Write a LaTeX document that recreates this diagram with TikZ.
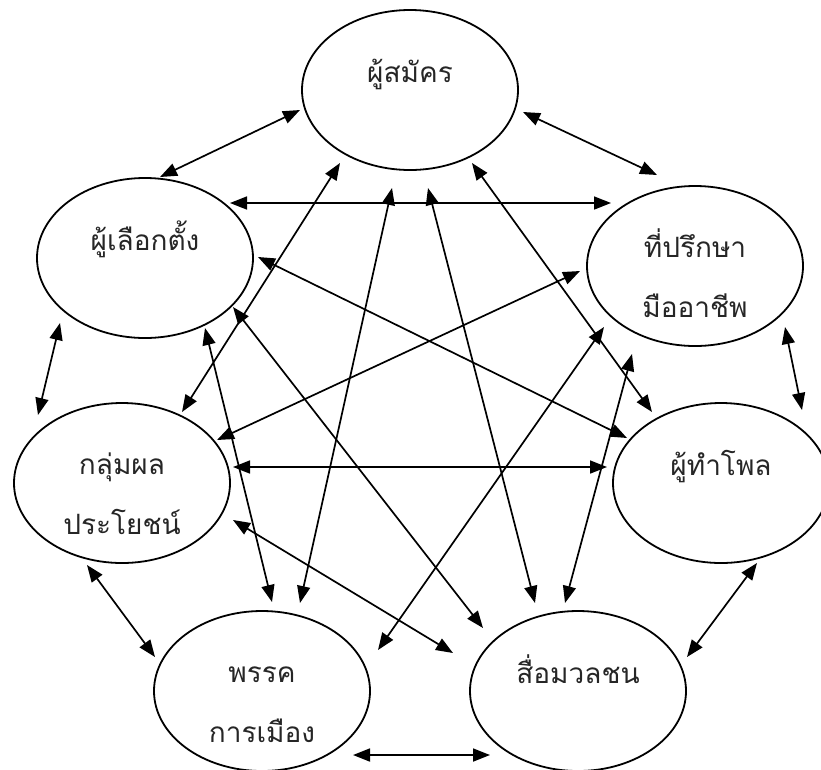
\documentclass[tikz,border=0pt]{standalone}
\usepackage{fontspec}
\newfontfamily\thaifont[Script=Thai]{Loma}
\usetikzlibrary{arrows.meta,shapes.geometric}
\tikzset{
  actor/.style={ellipse, draw, line width=1.8pt, minimum width=216pt, minimum height=160pt, inner sep=0pt, outer sep=0pt},
  lbl/.style={anchor=base, align=center, inner sep=0pt, text=black!85, font=\thaifont\fontsize{28}{60}\selectfont},
  link/.style={line width=1.7pt, {Triangle[length=17pt,width=13pt]}-{Triangle[length=17pt,width=13pt]}}
}
\begin{document}
\begin{tikzpicture}[x=1pt,y=-1pt]
\useasboundingbox (0,0) rectangle (821,769);
\clip (0,0) rectangle (821,769);
% ellipses
\node[actor] (S) at (410,90) {};
\node[actor] (V) at (145,258) {};
\node[actor] (C) at (695,266) {};
\node[actor] (I) at (122,483) {};
\node[actor] (P) at (721,483) {};
\node[actor] (R) at (262,691) {};
\node[actor] (M) at (578,691) {};
% labels (base anchor = baseline of the last line)
\node[lbl] (St) at ([yshift=8pt]S.center) {ผู้สมัคร};
\node[lbl] (Vt) at ([yshift=8pt]V.center) {ผู้เลือกตั้ง};
\node[lbl] (Ct) at ([yshift=-51pt]C.center) {ที่ปรึกษา\\มืออาชีพ};
\node[lbl] (It) at ([yshift=-51pt]I.center) {กลุ่มผล\\ประโยชน์};
\node[lbl] (Pt) at ([yshift=8pt]P.center) {ผู้ทำโพล};
\node[lbl] (Rt) at ([yshift=-51pt]R.center) {พรรค\\การเมือง};
\node[lbl] (Mt) at ([yshift=8pt]M.center) {สื่อมวลชน};
% connector end points
\coordinate (sv) at (300,110); \coordinate (vs) at (160,177);
\coordinate (sc) at (523,112); \coordinate (cs) at (657,175);
\coordinate (vc) at (230,203); \coordinate (cv) at (611,203);
\coordinate (vi) at (60,323);  \coordinate (iv) at (38,415);
\coordinate (si) at (340,163); \coordinate (is) at (182,412);
\coordinate (ci) at (580,271); \coordinate (ic) at (217,440);
\coordinate (ip) at (233,467); \coordinate (pi) at (607,467);
\coordinate (im) at (233,520); \coordinate (mi) at (453,653);
\coordinate (ir) at (87,565);  \coordinate (ri) at (155,657);
\coordinate (vr) at (205,328); \coordinate (rv) at (272,602);
\coordinate (sr) at (392,188); \coordinate (rs) at (300,603);
\coordinate (sm) at (428,188); \coordinate (ms) at (535,603);
\coordinate (sp) at (472,163); \coordinate (ps) at (652,412);
\coordinate (vp) at (258,257); \coordinate (pv) at (627,438);
\coordinate (vm) at (233,307); \coordinate (mv) at (483,628);
\coordinate (cr) at (604,327); \coordinate (rc) at (378,650);
\coordinate (cm) at (632,354); \coordinate (mc) at (565,603);
\coordinate (cp) at (785,327); \coordinate (pc) at (802,410);
\coordinate (pm) at (757,563); \coordinate (mp) at (687,657);
\coordinate (rm) at (353,755); \coordinate (mr) at (490,755);
% connectors
\draw[link] (sv) -- (vs);
\draw[link] (sc) -- (cs);
\draw[link] (vc) -- (cv);
\draw[link] (vi) -- (iv);
\draw[link] (si) -- (is);
\draw[link] (ci) -- (ic);
\draw[link] (ip) -- (pi);
\draw[link] (im) -- (mi);
\draw[link] (ir) -- (ri);
\draw[link] (vr) -- (rv);
\draw[link] (sr) -- (rs);
\draw[link] (sm) -- (ms);
\draw[link] (sp) -- (ps);
\draw[link] (vp) -- (pv);
\draw[link] (vm) -- (mv);
\draw[link] (cr) -- (rc);
\draw[link] (cm) -- (mc);
\draw[link] (cp) -- (pc);
\draw[link] (pm) -- (mp);
\draw[link] (rm) -- (mr);
\end{tikzpicture}
\end{document}
